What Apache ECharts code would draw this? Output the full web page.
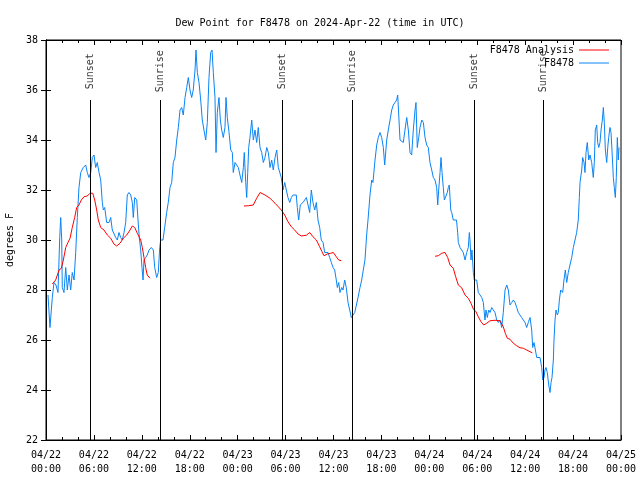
<!DOCTYPE html>
<html><head><meta charset="utf-8">
<script src="https://cdn.jsdelivr.net/npm/echarts@6/dist/echarts.min.js"></script>
<style>html,body{margin:0;padding:0;background:#fff}#c{width:640px;height:480px}</style>
</head><body><div id="c"></div>
<script>
// Hours since 2024-04-22 00:00 UTC
const obsHours = [0.25,0.50,0.79,1.00,1.25,1.50,1.72,1.84,1.97,2.04,2.25,2.47,2.67,2.88,3.09,3.29,3.51,3.72,3.92,4.13,4.35,4.67,4.97,5.17,5.38,5.60,5.80,6.01,6.22,6.42,6.64,6.85,7.05,7.18,7.35,7.60,7.89,8.10,8.30,8.51,8.73,8.93,9.14,9.35,9.55,9.77,9.98,10.18,10.39,10.61,10.81,10.93,11.11,11.36,11.52,11.68,11.86,12.02,12.15,12.27,12.48,12.68,12.90,13.19,13.44,13.61,13.86,14.06,14.24,14.36,14.65,14.86,15.11,15.31,15.53,15.74,15.94,16.15,16.37,16.57,16.78,16.99,17.19,17.41,17.62,17.82,18.03,18.24,18.44,18.66,18.78,18.95,19.16,19.37,19.57,19.78,20.00,20.20,20.41,20.62,20.79,20.95,21.16,21.29,21.45,21.66,21.83,22.00,22.20,22.41,22.54,22.70,22.92,23.13,23.33,23.45,23.67,23.88,24.08,24.29,24.51,24.71,24.83,25.01,25.13,25.26,25.38,25.54,25.76,25.96,26.17,26.38,26.58,26.80,27.01,27.21,27.42,27.64,27.84,28.05,28.26,28.46,28.68,28.89,29.09,29.30,29.46,29.68,29.89,30.09,30.30,30.52,30.72,30.93,31.34,31.47,31.64,31.84,32.18,32.60,32.81,33.02,33.22,33.43,33.65,33.85,34.06,34.27,34.47,34.69,34.90,35.10,35.31,35.52,35.73,35.94,36.15,36.35,36.48,36.65,36.81,37.03,37.19,37.40,37.60,37.82,38.03,38.23,38.44,38.66,38.86,39.07,39.32,39.53,39.73,39.94,40.15,40.32,40.57,40.78,40.94,41.20,41.41,41.61,41.82,42.03,42.24,42.41,42.66,42.86,43.08,43.29,43.49,43.70,43.91,44.04,44.20,44.33,44.54,44.74,44.95,45.17,45.37,45.58,45.79,45.99,46.21,46.33,46.49,46.67,46.83,47.05,47.25,47.46,47.67,47.87,48.08,48.30,48.50,48.71,48.92,49.05,49.17,49.34,49.46,49.59,49.75,49.88,50.09,50.25,50.38,50.50,50.59,50.68,50.80,51.00,51.40,51.55,51.63,51.84,52.05,52.25,52.47,52.68,52.88,53.01,53.09,53.22,53.34,53.51,53.63,53.93,54.13,54.35,54.56,54.76,54.97,55.10,55.26,55.43,55.60,55.81,56.01,56.22,56.44,56.64,56.85,57.06,57.26,57.48,57.69,57.89,58.10,58.31,58.52,58.73,58.94,59.14,59.35,59.56,59.77,59.98,60.19,60.39,60.61,60.82,60.94,61.11,61.23,61.45,61.86,62.07,62.20,62.36,62.48,62.61,62.77,62.95,63.11,63.24,63.36,63.53,63.61,63.74,63.86,64.03,64.15,64.28,64.45,64.70,64.86,65.03,65.20,65.40,65.61,65.83,66.03,66.24,66.45,66.65,66.78,66.87,67.08,67.20,67.37,67.49,67.62,67.78,67.96,68.12,68.33,68.53,68.66,68.78,68.96,69.08,69.21,69.37,69.50,69.66,69.79,69.91,70.04,70.21,70.34,70.46,70.62,70.75,70.87,71.04,71.16,71.29,71.41,71.54,71.66,71.75];
const obsDewF = [27.8,26.5,27.7,28.3,28.2,27.9,30.1,30.9,30.0,28.1,27.9,28.9,28.0,28.6,28.0,28.7,28.4,29.5,30.9,32.1,32.7,32.9,33.0,32.7,32.5,32.7,33.3,33.4,32.9,33.1,32.7,32.4,31.5,31.2,31.3,30.7,30.7,30.9,30.4,30.4,30.1,30.0,30.3,30.1,30.0,30.3,30.7,31.8,31.9,31.8,31.5,30.9,31.7,31.6,30.8,30.1,29.6,28.9,28.4,29.2,29.3,29.4,29.6,29.7,29.6,28.9,28.5,28.7,29.7,30.0,30.0,30.5,31.1,31.5,32.1,32.3,33.1,33.3,34.0,34.5,35.2,35.3,35.0,35.7,36.1,36.5,36.0,35.7,36.0,36.8,37.6,36.7,36.3,35.6,34.8,34.4,34.0,34.7,36.5,37.5,37.6,36.7,35.7,33.5,35.1,35.7,34.8,34.4,34.1,34.5,35.7,34.9,34.3,33.6,33.5,32.7,33.1,33.0,32.9,32.6,32.3,32.9,33.5,32.3,31.7,32.7,33.7,34.1,34.8,34.0,34.4,33.9,34.5,33.7,33.5,33.1,33.3,33.7,33.5,32.9,33.2,32.8,33.3,33.6,32.9,32.9,32.5,32.0,32.3,32.0,31.7,31.5,31.7,31.8,31.8,31.3,30.8,31.4,31.5,31.7,31.7,31.1,32.0,31.5,31.2,31.5,30.8,30.5,30.0,29.9,29.5,29.5,29.5,29.3,29.1,28.9,28.8,28.4,28.1,28.3,27.9,28.1,28.0,28.4,28.1,27.5,27.2,26.9,26.9,27.1,27.1,27.7,28.1,28.4,28.8,29.2,30.2,30.8,31.8,32.4,32.3,33.2,33.8,34.1,34.3,34.1,33.7,33.0,34.0,34.4,34.8,35.2,35.4,35.5,35.6,35.8,34.8,34.0,34.0,33.9,34.4,34.9,34.4,33.5,33.4,34.4,35.2,35.5,33.7,34.1,34.5,34.8,34.7,34.1,33.8,33.7,33.1,32.8,32.5,32.4,32.1,31.4,32.0,32.7,33.3,32.7,32.1,31.6,31.6,31.9,32.1,32.2,31.7,31.2,31.1,30.8,30.8,30.3,29.9,29.7,29.7,29.5,29.2,29.5,29.7,30.3,30.0,29.2,29.6,28.7,28.4,28.4,27.9,27.8,27.7,27.5,26.8,27.2,26.9,27.2,27.1,27.3,27.3,27.1,26.8,26.7,26.8,26.5,27.1,28.0,28.2,28.0,27.4,27.5,27.6,27.5,27.3,27.1,27.0,26.9,26.9,26.7,26.5,26.7,26.9,26.4,25.7,25.9,25.9,25.3,25.3,24.9,24.4,24.5,24.8,24.9,24.7,24.2,23.9,24.3,24.5,25.2,26.0,26.8,27.2,27.0,27.1,27.6,28.0,27.9,28.4,28.8,28.3,28.7,29.0,29.3,29.7,30.0,30.3,30.8,31.7,32.3,32.8,33.3,33.1,32.7,33.5,33.9,33.2,33.4,33.1,32.5,33.1,34.4,34.6,33.9,33.7,33.9,34.4,34.8,35.3,34.7,33.6,33.1,33.7,34.1,34.5,34.3,33.6,32.5,32.1,31.7,32.5,34.1,33.2,33.7];
const anaHours = [0.79,1.21,1.63,1.92,2.17,2.47,2.75,3.01,3.29,3.59,3.84,4.13,4.42,4.76,5.17,5.51,5.85,6.10,6.35,6.55,6.85,7.26,7.68,8.10,8.51,8.85,9.27,9.68,10.11,10.52,10.81,11.11,11.43,11.86,12.06,12.27,12.48,12.68,13.02,18.0,24.79,25.33,25.96,26.38,26.80,27.42,28.05,28.68,29.09,29.46,29.89,30.30,30.72,31.14,31.56,31.97,32.60,33.02,33.43,33.85,34.27,34.56,34.81,35.22,35.65,35.98,36.35,36.65,36.98,42.0,48.71,49.12,49.55,49.96,50.30,50.59,51.00,51.30,51.63,52.05,52.47,52.88,53.22,53.51,53.84,54.13,54.47,54.81,55.18,55.60,56.22,56.85,57.06,57.26,57.51,57.77,58.10,58.52,58.94,59.35,59.77,60.19,60.61,60.90];
const anaDewF = [28.24,28.4,28.8,28.87,29.2,29.7,29.9,30.07,30.5,30.9,31.3,31.4,31.6,31.73,31.76,31.87,31.87,31.6,31.2,30.8,30.5,30.4,30.2,30.07,29.84,29.76,29.87,30.07,30.2,30.4,30.56,30.5,30.27,30.0,29.7,29.3,28.9,28.6,28.47,null,31.36,31.37,31.4,31.67,31.9,31.8,31.67,31.47,31.33,31.2,31.0,30.73,30.53,30.4,30.24,30.16,30.19,30.3,30.13,30.0,29.73,29.53,29.37,29.44,29.47,29.5,29.33,29.2,29.17,null,29.35,29.37,29.47,29.5,29.3,29.0,28.87,28.53,28.2,28.09,27.8,27.67,27.47,27.24,27.13,26.93,26.73,26.6,26.67,26.77,26.79,26.77,26.76,26.53,26.27,26.07,26.03,25.87,25.77,25.69,25.67,25.6,25.53,25.49];
const sunsetHours = [5.55, 29.59, 53.63];
const sunriseHours = [14.31, 38.35, 62.27];
const xMin = 0, xMax = 72, xStep = 6;
const yMin = 22, yMax = 38, yStep = 2;
const startMonth = '04', startDay = 22;

const FONT = 'DejaVu Sans Mono';
function xLabel(h) {
  const d = startDay + Math.floor(h / 24);
  const hh = String(h % 24).padStart(2, '0');
  return startMonth + '/' + d + '\n' + hh + ':00';
}
const zip = (xs, ys) => xs.map((x, i) => [x, ys[i]]);
const sunEvents = sunsetHours.map(h => ({h, name: 'Sunset'}))
  .concat(sunriseHours.map(h => ({h, name: 'Sunrise'})));

const chart = echarts.init(document.getElementById('c'), null, {renderer: 'canvas'});
const tickCommon = {
  axisLine: {show: true, lineStyle: {color: '#000', width: 1}},
  splitLine: {show: false},
};
chart.setOption({
  animation: false,
  backgroundColor: '#fff',
  title: {
    text: 'Dew Point for F8478 on 2024-Apr-22 (time in UTC)',
    left: 'center', top: 13,
    textStyle: {fontFamily: FONT, fontSize: 10, fontWeight: 'normal', color: '#000'}
  },
  legend: {
    data: ['F8478 Analysis', 'F8478'],
    orient: 'vertical', align: 'right', right: 26, top: 40,
    itemWidth: 30, itemHeight: 1, itemGap: 3, icon: 'rect',
    textStyle: {fontFamily: FONT, fontSize: 10, color: '#000'}
  },
  grid: {left: 46, right: 19, top: 40, bottom: 40, show: true, borderColor: '#000', borderWidth: 1,
    containLabel: false, outerBoundsMode: 'none'},
  xAxis: [{
    type: 'value', min: xMin, max: xMax, interval: xStep, position: 'bottom',
    ...tickCommon,
    axisTick: {show: true, inside: true, length: 5, lineStyle: {color: '#000'}},
    minorTick: {show: true, splitNumber: 3, length: 3, lineStyle: {color: '#000'}},
    axisLabel: {formatter: xLabel, fontFamily: FONT, fontSize: 10, color: '#000', margin: 8, lineHeight: 14, showMinLabel: true, showMaxLabel: true}
  }, {
    type: 'value', min: xMin, max: xMax, interval: xStep, position: 'top',
    ...tickCommon,
    axisTick: {show: true, inside: true, length: 5, lineStyle: {color: '#000'}},
    minorTick: {show: true, splitNumber: 3, length: 3, lineStyle: {color: '#000'}},
    axisLabel: {show: false}
  }],
  yAxis: [{
    type: 'value', min: yMin, max: yMax, interval: yStep, position: 'left',
    name: 'degrees F', nameLocation: 'middle', nameGap: 31, nameRotate: 90,
    nameTextStyle: {fontFamily: FONT, fontSize: 10, color: '#000'},
    ...tickCommon,
    axisTick: {show: true, inside: true, length: 5, lineStyle: {color: '#000'}},
    axisLabel: {fontFamily: FONT, fontSize: 10, color: '#000', margin: 8}
  }, {
    type: 'value', min: yMin, max: yMax, interval: yStep, position: 'right',
    ...tickCommon,
    axisTick: {show: true, inside: true, length: 5, lineStyle: {color: '#000'}},
    axisLabel: {show: false}
  }],
  series: [{
    name: 'F8478 Analysis', type: 'line', data: zip(anaHours, anaDewF),
    showSymbol: false, symbol: 'none', connectNulls: false,
    lineStyle: {color: '#ff0000', width: 1}, itemStyle: {color: '#ff0000'}, z: 3
  }, {
    name: 'F8478', type: 'line', data: zip(obsHours, obsDewF),
    showSymbol: false, symbol: 'none',
    lineStyle: {color: '#0a84f5', width: 1}, itemStyle: {color: '#0a84f5'}, z: 2
  }, {
    name: 'sun', type: 'scatter', symbolSize: 0,
    data: sunEvents.map(e => ({value: [e.h, 36.75], name: e.name})),
    label: {show: true, formatter: '{b}', rotate: 90, position: 'inside',
      fontFamily: FONT, fontSize: 10, color: '#000'},
    markLine: {
      silent: true, symbol: 'none', animation: false,
      label: {show: false},
      lineStyle: {color: '#000', width: 1, type: 'solid'},
      data: sunEvents.map(e => [{coord: [e.h, yMin]}, {coord: [e.h, 35.6]}])
    },
    z: 1
  }]
});
</script></body></html>
